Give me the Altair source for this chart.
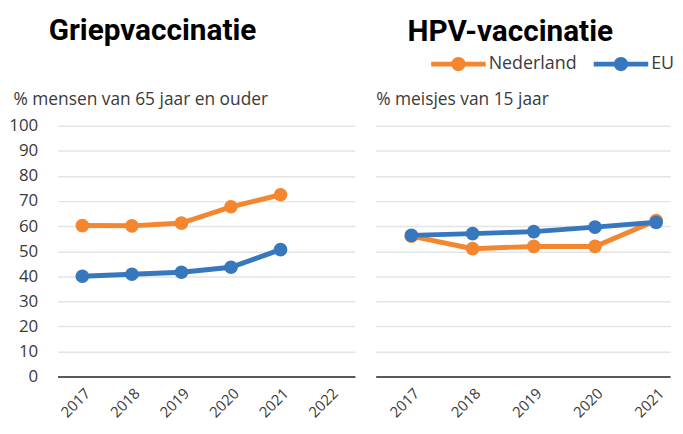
import altair as alt
import pandas as pd

years_flu = ["2017", "2018", "2019", "2020", "2021", "2022"]
years_hpv = ["2017", "2018", "2019", "2020", "2021"]
flu_nl = [60.2, 60.1, 61.2, 67.7, 72.5]
flu_eu = [40.0, 40.8, 41.6, 43.6, 50.6]
hpv_nl = [56.0, 51.0, 51.9, 51.9, 62.2]
hpv_eu = [56.3, 57.0, 57.8, 59.6, 61.5]
series = ["Nederland", "EU"]
colors = ["#F4862F", "#3777BD"]
y_ticks = [0, 10, 20, 30, 40, 50, 60, 70, 80, 90, 100]


def long_df(years, nl, eu):
    rows = []
    for y, v in zip(years, nl):
        rows.append({"jaar": y, "reeks": "Nederland", "waarde": v})
    for y, v in zip(years, eu):
        rows.append({"jaar": y, "reeks": "EU", "waarde": v})
    return pd.DataFrame(rows)


flu_df = long_df(years_flu[:5], flu_nl, flu_eu)
hpv_df = long_df(years_hpv, hpv_nl, hpv_eu)

FONT = "Open Sans"
TITLE_FONT = "Roboto"
TXT = "#3a3a3a"

legend_path = ("M-1,-0.09L1,-0.09L1,0.09L-1,0.09Z "
               "M-0.26,0A0.26,0.26 0 1,1 0.26,0A0.26,0.26 0 1,1 -0.26,0Z")


def panel(df, years, title, subtitle, show_labels, legend, width, xscale,
          title_dx, title_offset, sub_x):
    color = alt.Color("reeks:N", scale=alt.Scale(domain=series, range=colors),
                      legend=legend)
    x = alt.X("jaar:O", scale=xscale,
              axis=alt.Axis(title=None, labelAngle=-45, labelFontSize=15,
                            labelColor=TXT, labelFont=FONT, domainColor="#595959",
                            domainWidth=2, ticks=False, grid=False, labelPadding=9))
    y = alt.Y("waarde:Q", scale=alt.Scale(domain=[0, 100], nice=False),
              axis=alt.Axis(values=y_ticks, grid=True, gridColor="#e4e4e4",
                            gridWidth=1.5, domain=False, ticks=False,
                            labels=show_labels, labelFontSize=17, labelFont=FONT,
                            labelColor=TXT, labelPadding=20,
                            title=subtitle, titleAngle=0, titleAlign="left",
                            titleBaseline="alphabetic", titleX=sub_x, titleY=-21,
                            titleFontSize=17.5, titleFontWeight="normal",
                            titleFont=FONT, titleColor=TXT))
    base = alt.Chart(df).encode(x=x, y=y, color=color,
                                order=alt.Order("jaar:O"))
    line = base.mark_line(strokeWidth=5)
    pts = base.mark_point(filled=True, size=190, opacity=1)
    return alt.layer(line, pts).properties(
        width=width, height=253,
        title=alt.TitleParams(title, anchor="start", frame="group", dx=title_dx,
                              offset=title_offset, fontSize=30, fontWeight="bold",
                              font=TITLE_FONT, color="#000000"))


left = panel(flu_df, years_flu, "Griepvaccinatie", "% mensen van 65 jaar en ouder",
             True, None, 300,
             alt.Scale(type="point", domain=years_flu, padding=0.5),
             -9, 46, -45)

right_legend = alt.Legend(orient="none", legendX=56, legendY=-90,
                          direction="horizontal", title=None,
                          symbolType=legend_path, symbolSize=3025,
                          symbolStrokeWidth=0, labelFontSize=18, labelFont=FONT,
                          labelColor=TXT, columnPadding=17, labelOffset=3,
                          padding=0)
right = panel(hpv_df, years_hpv, "HPV-vaccinatie", "% meisjes van 15 jaar",
              False, right_legend, 297,
              alt.Scale(type="point", domain=years_hpv, padding=0.405, align=0.72),
              32, -10, 0)

chart = alt.hconcat(left, right, spacing=21).resolve_scale(
    color="independent").properties(
    padding={"left": 0, "right": 0, "top": 6, "bottom": 0}
).configure_view(stroke=None)

chart.save("out.html", embed_options={"renderer": "svg", "actions": False})
